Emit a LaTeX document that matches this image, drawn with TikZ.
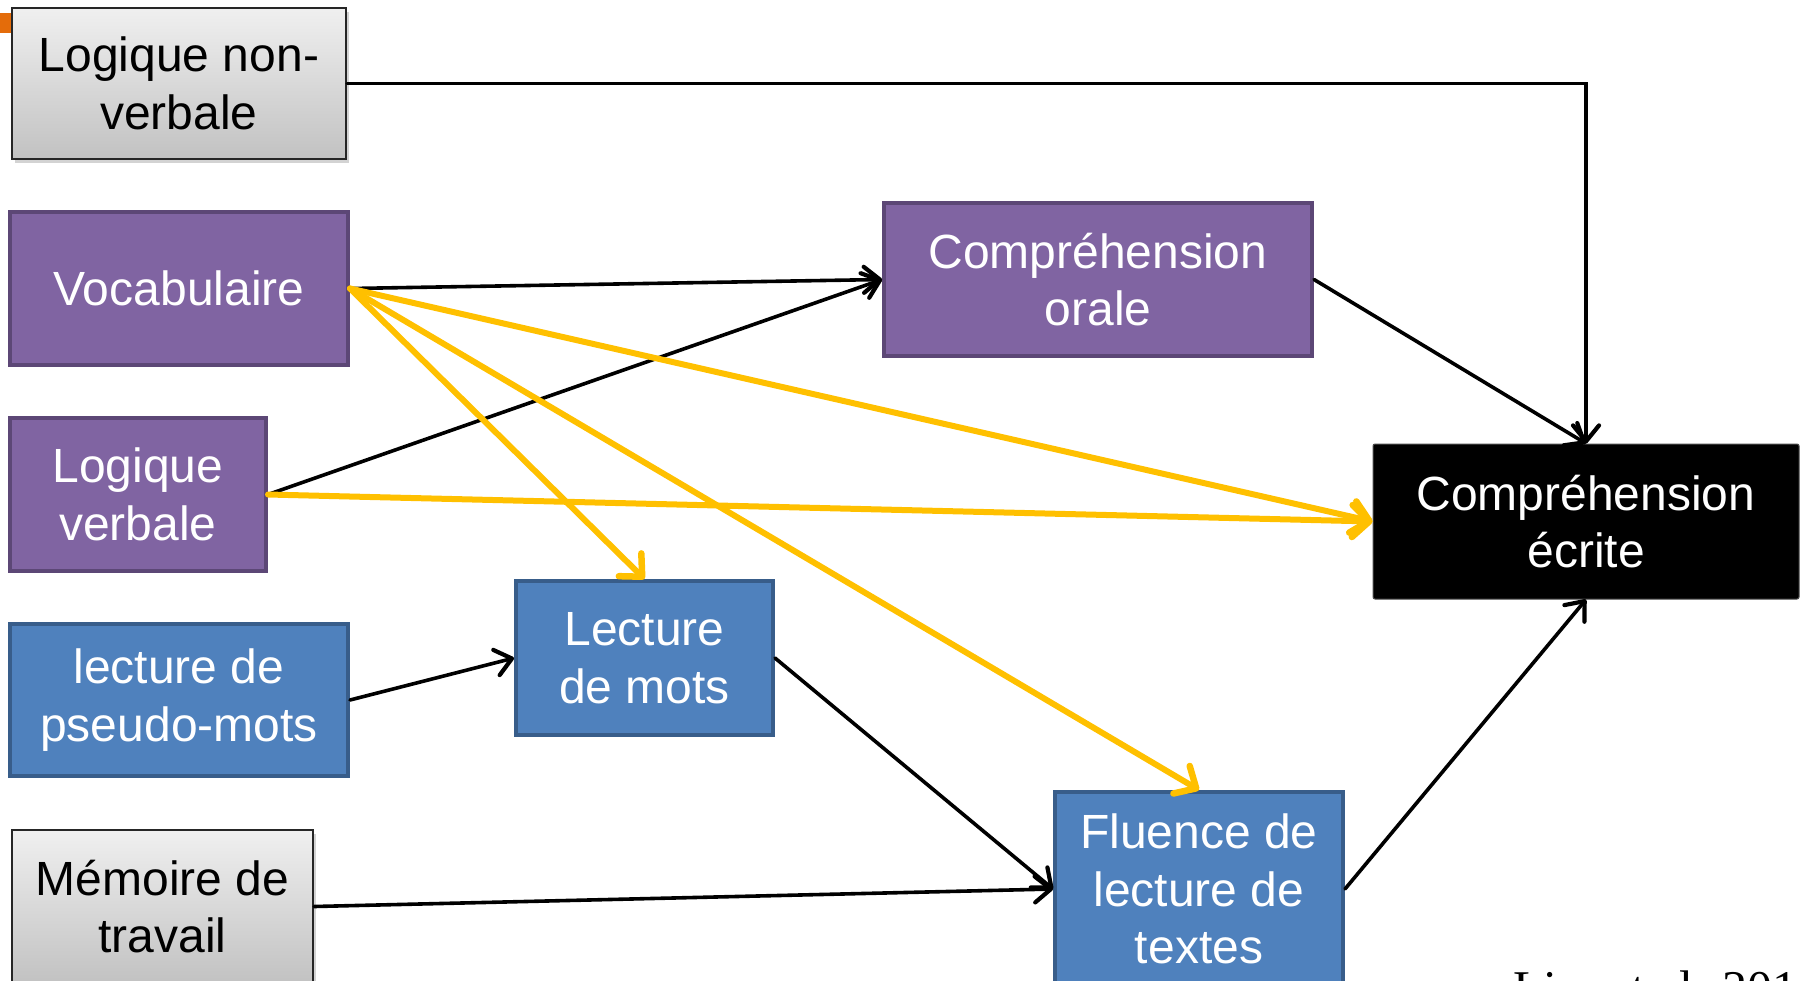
\documentclass[tikz,border=0pt]{standalone}
\usepackage{fontspec}
\setmainfont{Liberation Sans}
\newfontfamily\timesf{Liberation Serif}
\usetikzlibrary{arrows.meta,shadows}
\definecolor{purplefill}{HTML}{8064A2}
\definecolor{purpleline}{HTML}{5C4776}
\definecolor{bluefill}{HTML}{4F81BD}
\definecolor{blueline}{HTML}{385D8A}
\definecolor{yellowline}{HTML}{FFC000}
\definecolor{orangetab}{HTML}{E46C0A}
\tikzset{
  base/.style={rectangle, align=center, inner sep=0pt, font=\fontsize{48}{57.6}\selectfont},
  graybox/.style={base, draw=black!85, line width=2.5pt, top color=black!6, bottom color=black!24, text=black,
    drop shadow={opacity=0.35, shadow xshift=3pt, shadow yshift=-4pt}},
  purplebox/.style={base, draw=purpleline, line width=4pt, fill=purplefill, text=white},
  bluebox/.style={base, draw=blueline, line width=4pt, fill=bluefill, text=white},
  blackbox/.style={base, draw=black!70, line width=1pt, fill=black, text=white, rounded corners=2pt},
  blackarrow/.style={draw=black, line width=3.6pt, line cap=round,
    -{Straight Barb[length=16pt,width=26pt,line width=4.2pt,round]}},
  yellowarrow/.style={draw=yellowline, line width=6pt, line cap=round,
    -{Straight Barb[length=17pt,width=32pt,line width=6.5pt,round]}},
}
\begin{document}
\begin{tikzpicture}[x=1pt,y=-1pt]
\useasboundingbox (0,0) rectangle (1801,980);
\clip (0,0) rectangle (1801,980);
\fill[orangetab] (0,13) rectangle (40,33);
\node[graybox, minimum width=334pt, minimum height=151pt] (nv) at (179,83.5) {Logique non-\\verbale};
\node[purplebox, minimum width=338pt, minimum height=153pt] (voc) at (179,288.5) {Vocabulaire};
\node[purplebox, minimum width=256pt, minimum height=153pt] (lv) at (138,494.5) {Logique\\verbale};
\node[bluebox, minimum width=338pt, minimum height=152pt] (pm) at (179,700) {lecture de\\pseudo-mots};
\node[graybox, minimum width=301pt, minimum height=153pt] (mem) at (162.5,906.5) {Mémoire de\\travail};
\node[purplebox, minimum width=428pt, minimum height=153pt] (co) at (1098,279.5) {Compréhension\\orale};
\node[blackbox, minimum width=426pt, minimum height=155pt] (ce) at (1586,521.5) {Compréhension\\écrite};
\node[bluebox, minimum width=257pt, minimum height=154pt] (lm) at (644.5,658) {Lecture\\de mots};
\node[bluebox, minimum width=288pt, minimum height=194pt] (fl) at (1199,889) {Fluence de\\lecture de\\textes};
\node[anchor=base west, inner sep=0pt, font=\timesf\fontsize{50}{60}\selectfont] (ref) at (1513,1005) {Lim et al. 2014};
% black connectors
\draw[blackarrow] (nv.east) -| (ce.north);
\draw[blackarrow] (voc.east) -- (co.west);
\draw[blackarrow] (lv.east) -- (co.west);
\draw[blackarrow] (co.east) -- (ce.north);
\draw[blackarrow] (pm.east) -- (lm.west);
\draw[blackarrow] (lm.east) -- (fl.west);
\draw[blackarrow] (mem.east) -- (fl.west);
\draw[blackarrow] (fl.east) -- (ce.south);
% yellow connectors
\draw[yellowarrow] (voc.east) -- (lm.north);
\draw[yellowarrow] (voc.east) -- (fl.north);
\draw[yellowarrow] (voc.east) -- (ce.west);
\draw[yellowarrow] (lv.east) -- (ce.west);
\end{tikzpicture}
\end{document}
